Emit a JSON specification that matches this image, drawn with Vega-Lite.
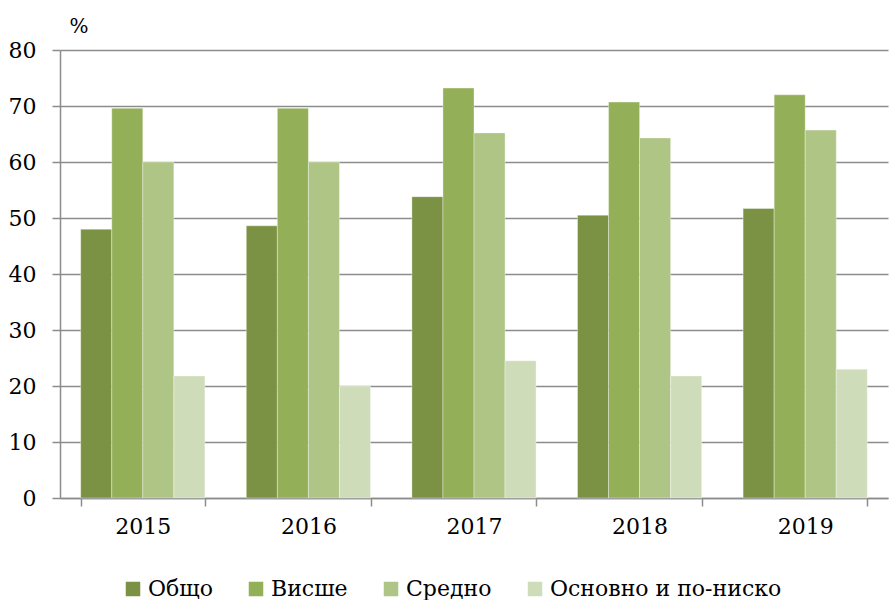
{
  "$schema": "https://vega.github.io/schema/vega-lite/v6.json",
  "autosize": {"type": "none"},
  "width": 828,
  "height": 448,
  "padding": {"left": 60, "top": 50, "right": 2, "bottom": 102},
  "background": "white",
  "config": {
    "font": "DejaVu Serif",
    "view": {"stroke": null}
  },
  "data": {
    "values": [
      {"year": "2015", "group": "Общо", "value": 48.0},
      {"year": "2015", "group": "Висше", "value": 69.6},
      {"year": "2015", "group": "Средно", "value": 60.0},
      {"year": "2015", "group": "Основно и по-ниско", "value": 21.8},
      {"year": "2016", "group": "Общо", "value": 48.6},
      {"year": "2016", "group": "Висше", "value": 69.6},
      {"year": "2016", "group": "Средно", "value": 60.0},
      {"year": "2016", "group": "Основно и по-ниско", "value": 20.0},
      {"year": "2017", "group": "Общо", "value": 53.8},
      {"year": "2017", "group": "Висше", "value": 73.2},
      {"year": "2017", "group": "Средно", "value": 65.2},
      {"year": "2017", "group": "Основно и по-ниско", "value": 24.5},
      {"year": "2018", "group": "Общо", "value": 50.5},
      {"year": "2018", "group": "Висше", "value": 70.7},
      {"year": "2018", "group": "Средно", "value": 64.3},
      {"year": "2018", "group": "Основно и по-ниско", "value": 21.8},
      {"year": "2019", "group": "Общо", "value": 51.7},
      {"year": "2019", "group": "Висше", "value": 72.0},
      {"year": "2019", "group": "Средно", "value": 65.7},
      {"year": "2019", "group": "Основно и по-ниско", "value": 23.0}
    ]
  },
  "mark": {"type": "bar", "stroke": "#ffffff", "strokeWidth": 0.6, "strokeOpacity": 0.6},
  "encoding": {
    "x": {
      "field": "year",
      "type": "nominal",
      "scale": {"paddingInner": 0.25, "paddingOuter": 0.125},
      "axis": {
        "title": null,
        "labelAngle": 0,
        "labelFont": "DejaVu Serif",
        "labelFontSize": 22,
        "labelColor": "#000000",
        "labelPadding": 10,
        "tickBand": "extent",
        "tickSize": 8,
        "tickColor": "#8c8c8c",
        "tickWidth": 1.5,
        "domainColor": "#8c8c8c",
        "domainWidth": 1.5,
        "grid": false
      }
    },
    "xOffset": {
      "field": "group",
      "type": "nominal",
      "sort": ["Общо", "Висше", "Средно", "Основно и по-ниско"]
    },
    "y": {
      "field": "value",
      "type": "quantitative",
      "scale": {"domain": [0, 80], "nice": false},
      "axis": {
        "values": [0, 10, 20, 30, 40, 50, 60, 70, 80],
        "title": "%",
        "titleAngle": 0,
        "titleX": 9,
        "titleY": -18,
        "titleAlign": "left",
        "titleBaseline": "alphabetic",
        "titleFont": "DejaVu Serif",
        "titleFontSize": 20,
        "titleFontWeight": "normal",
        "titleColor": "#000000",
        "labelFont": "DejaVu Serif",
        "labelFontSize": 22,
        "labelColor": "#000000",
        "labelPadding": 16,
        "tickSize": 8,
        "tickColor": "#8c8c8c",
        "tickWidth": 1.5,
        "domainColor": "#8c8c8c",
        "domainWidth": 1.5,
        "grid": true,
        "gridColor": "#8c8c8c",
        "gridWidth": 1.5
      }
    },
    "color": {
      "field": "group",
      "type": "nominal",
      "sort": ["Общо", "Висше", "Средно", "Основно и по-ниско"],
      "scale": {
        "domain": ["Общо", "Висше", "Средно", "Основно и по-ниско"],
        "range": ["#7b9143", "#93af57", "#aec585", "#cfdcb9"]
      },
      "legend": {
        "title": null,
        "orient": "none",
        "legendX": 62,
        "legendY": 528,
        "direction": "horizontal",
        "columns": 4,
        "padding": 0,
        "columnPadding": 32,
        "labelOffset": 4,
        "labelLimit": 0,
        "labelFont": "DejaVu Serif",
        "symbolType": "square",
        "symbolSize": 210,
        "symbolStrokeWidth": 0,
        "labelFontSize": 22,
        "labelColor": "#000000"
      }
    }
  }
}
